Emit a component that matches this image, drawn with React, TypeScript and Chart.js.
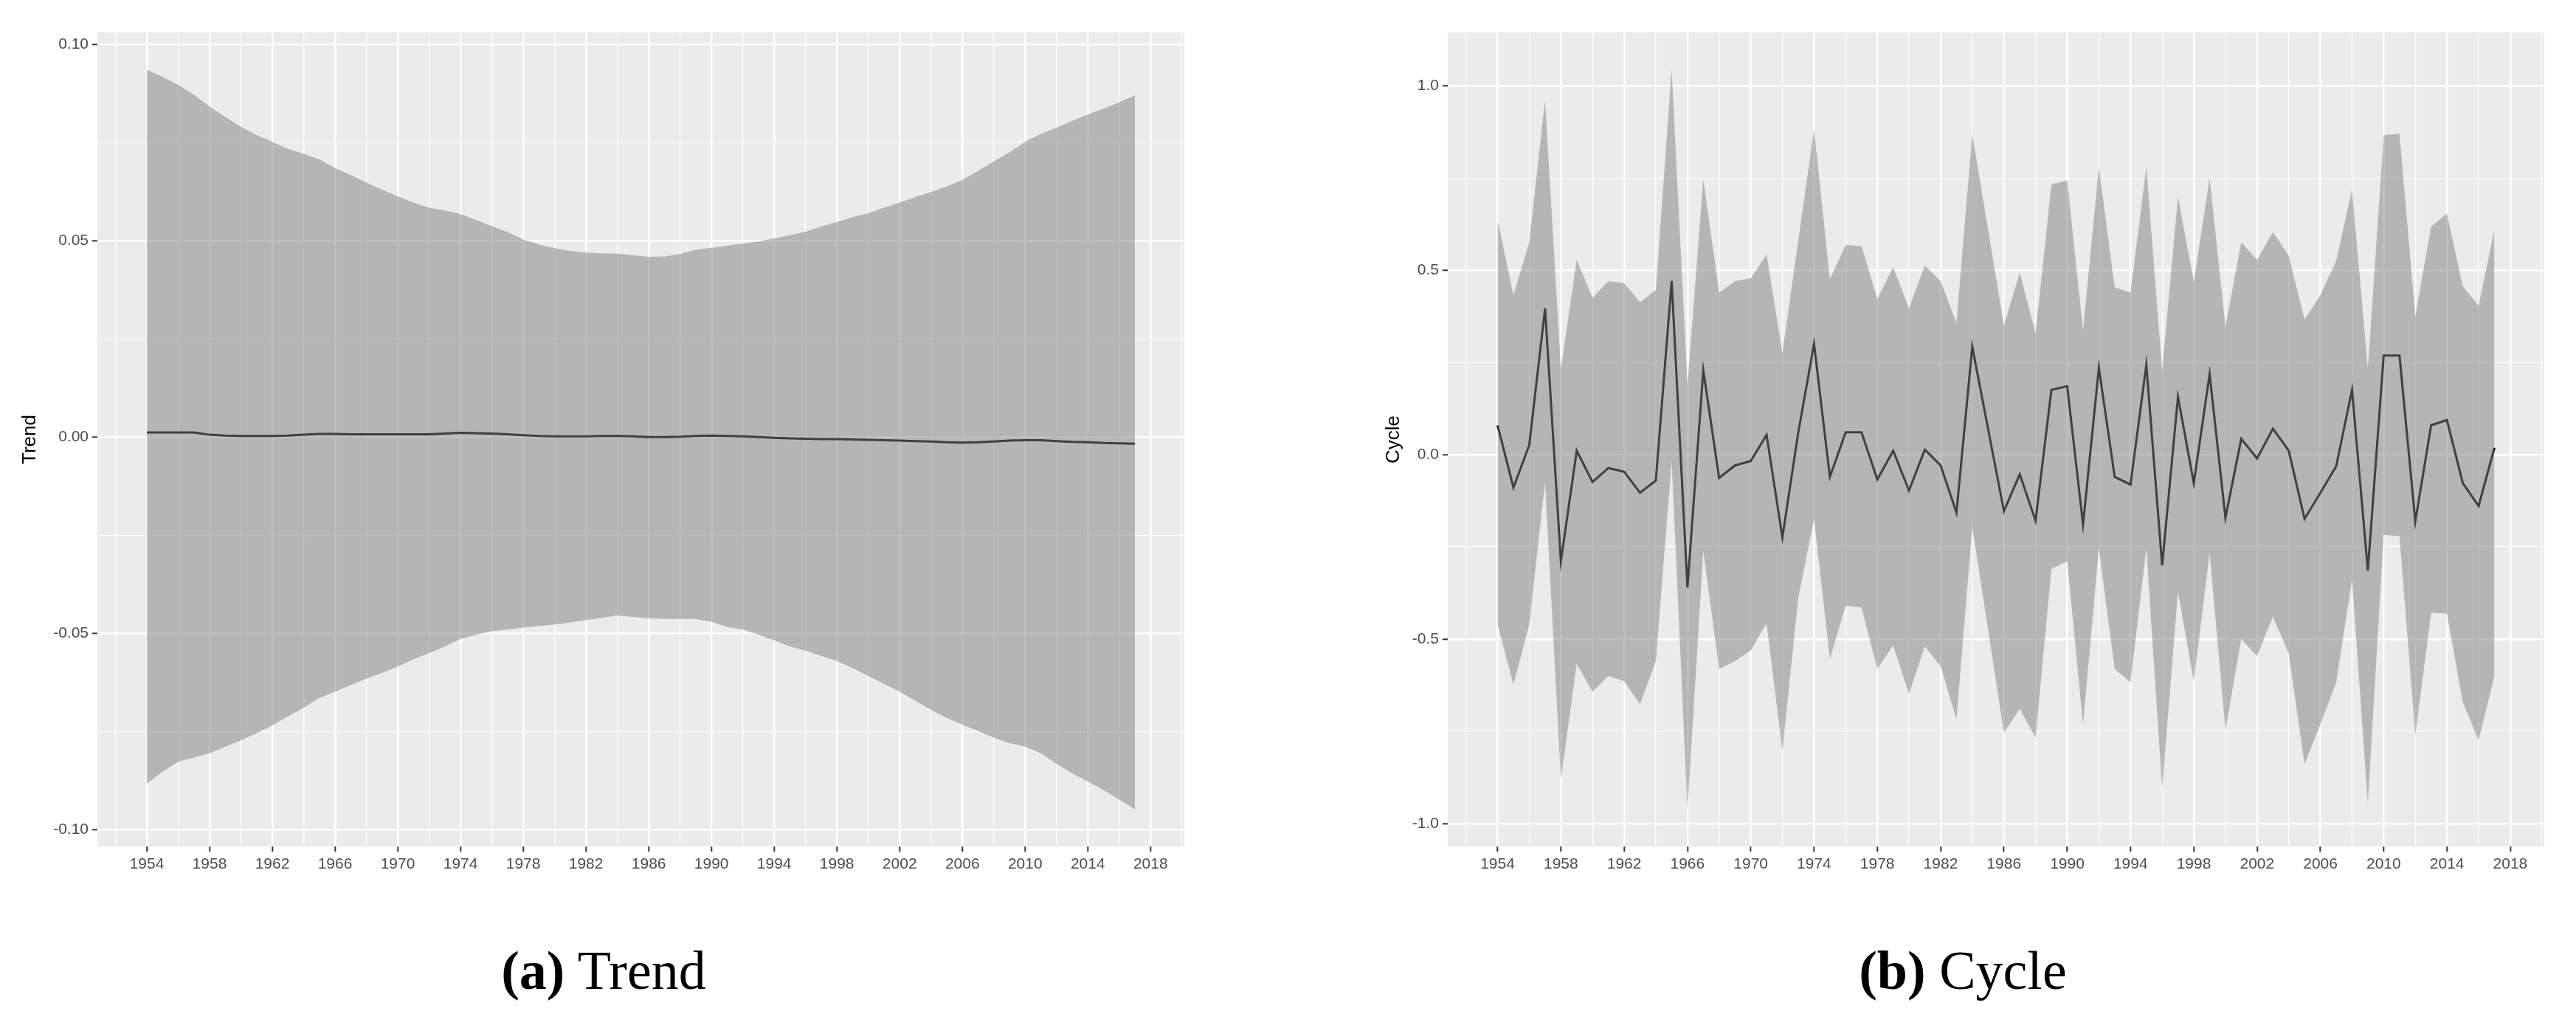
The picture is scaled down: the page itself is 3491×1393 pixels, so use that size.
import React, { useEffect, useRef } from "react";
import { Chart, registerables } from "chart.js";

Chart.register(...registerables);

// ---------- data ----------
const years = [
  1954, 1955, 1956, 1957, 1958, 1959, 1960, 1961, 1962, 1963,
  1964, 1965, 1966, 1967, 1968, 1969, 1970, 1971, 1972, 1973,
  1974, 1975, 1976, 1977, 1978, 1979, 1980, 1981, 1982, 1983,
  1984, 1985, 1986, 1987, 1988, 1989, 1990, 1991, 1992, 1993,
  1994, 1995, 1996, 1997, 1998, 1999, 2000, 2001, 2002, 2003,
  2004, 2005, 2006, 2007, 2008, 2009, 2010, 2011, 2012, 2013,
  2014, 2015, 2016, 2017,
];

const trendValues = [
  0.0012, 0.0012, 0.0012, 0.0012, 0.0006, 0.0004, 0.0003, 0.0003, 0.0003, 0.0004,
  0.0006, 0.0008, 0.0008, 0.0007, 0.0007, 0.0007, 0.0007, 0.0007, 0.0007, 0.0009,
  0.0011, 0.001, 0.0009, 0.0007, 0.0005, 0.0003, 0.0002, 0.0002, 0.0002, 0.0003,
  0.0003, 0.0002, 0.0, 0.0, 0.0001, 0.0003, 0.0004, 0.0003, 0.0002, 0.0,
  -0.0002, -0.0003, -0.0004, -0.0005, -0.0005, -0.0006, -0.0007, -0.0008, -0.0009, -0.001,
  -0.0011, -0.0013, -0.0014, -0.0013, -0.0011, -0.0009, -0.0008, -0.0008, -0.001, -0.0012,
  -0.0013, -0.0015, -0.0016, -0.0017,
];

const trendUpper = [
  0.0936, 0.0917, 0.0897, 0.0872, 0.0842, 0.0815, 0.079, 0.0769, 0.0752, 0.0734,
  0.0721, 0.0707, 0.0685, 0.0667, 0.0648, 0.063, 0.0613, 0.0597, 0.0584, 0.0577,
  0.0568, 0.0553, 0.0537, 0.0522, 0.0503, 0.049, 0.0481, 0.0474, 0.047, 0.0468,
  0.0467, 0.0463, 0.0459, 0.046, 0.0466, 0.0477, 0.0482, 0.0487, 0.0493, 0.0498,
  0.0506, 0.0514, 0.0523, 0.0536, 0.0548, 0.056, 0.057, 0.0584, 0.0597, 0.0611,
  0.0624, 0.0638, 0.0655, 0.0678, 0.0702, 0.0725, 0.0752, 0.0772, 0.0788, 0.0805,
  0.0821, 0.0836, 0.0852, 0.087,
];

const trendLower = [
  -0.0882, -0.0852, -0.0826, -0.0816, -0.0805, -0.0788, -0.0772, -0.0754, -0.0734, -0.0711,
  -0.0689, -0.0664, -0.0648, -0.0631, -0.0615, -0.06, -0.0584, -0.0566, -0.055, -0.0533,
  -0.0514, -0.0503, -0.0494, -0.049, -0.0485, -0.0481, -0.0477, -0.0472, -0.0466, -0.046,
  -0.0454, -0.0458, -0.0461, -0.0463, -0.0463, -0.0463, -0.047, -0.0483, -0.049, -0.0503,
  -0.0517, -0.0533, -0.0544, -0.0557, -0.057, -0.0588, -0.0608, -0.0628, -0.0648, -0.0671,
  -0.0694, -0.0715, -0.0732, -0.0748, -0.0765, -0.0779, -0.0788, -0.0805, -0.0832, -0.0856,
  -0.0877, -0.0899, -0.0923, -0.0948,
];

const cycleValues = [
  0.08, -0.089, 0.026, 0.397, -0.289, 0.011, -0.074, -0.036, -0.046, -0.103,
  -0.07, 0.471, -0.36, 0.229, -0.063, -0.029, -0.017, 0.054, -0.224, 0.06,
  0.301, -0.06, 0.061, 0.061, -0.067, 0.011, -0.097, 0.014, -0.029, -0.157,
  0.293, 0.07, -0.153, -0.053, -0.179, 0.176, 0.186, -0.189, 0.236, -0.06,
  -0.081, 0.244, -0.3, 0.157, -0.077, 0.219, -0.171, 0.043, -0.01, 0.071,
  0.011, -0.174, -0.103, -0.031, 0.176, -0.314, 0.269, 0.269, -0.181, 0.08,
  0.094, -0.077, -0.139, 0.019,
];

const cycleUpper = [
  0.637, 0.433, 0.576, 0.961, 0.233, 0.529, 0.426, 0.471, 0.466, 0.414,
  0.447, 1.045, 0.19, 0.747, 0.44, 0.471, 0.479, 0.543, 0.276, 0.58,
  0.883, 0.476, 0.569, 0.566, 0.423, 0.509, 0.397, 0.514, 0.471, 0.357,
  0.869, 0.61, 0.351, 0.494, 0.329, 0.733, 0.744, 0.337, 0.78, 0.454,
  0.44, 0.78, 0.229, 0.7, 0.469, 0.75, 0.347, 0.576, 0.529, 0.604,
  0.54, 0.366, 0.433, 0.526, 0.719, 0.233, 0.866, 0.871, 0.376, 0.619,
  0.654, 0.457, 0.404, 0.611,
];

const cycleLower = [
  -0.46, -0.624, -0.46, -0.074, -0.881, -0.567, -0.643, -0.6, -0.614, -0.677,
  -0.56, -0.017, -0.962, -0.26, -0.581, -0.56, -0.531, -0.457, -0.803, -0.389,
  -0.174, -0.553, -0.41, -0.414, -0.581, -0.517, -0.649, -0.52, -0.574, -0.717,
  -0.196, -0.474, -0.753, -0.689, -0.767, -0.31, -0.289, -0.731, -0.253, -0.581,
  -0.617, -0.253, -0.903, -0.371, -0.614, -0.267, -0.746, -0.5, -0.546, -0.439,
  -0.539, -0.839, -0.731, -0.617, -0.339, -0.946, -0.217, -0.22, -0.76, -0.429,
  -0.431, -0.671, -0.774, -0.6,
];

// ---------- ticks ----------
const xMajorYears = [1954, 1958, 1962, 1966, 1970, 1974, 1978, 1982, 1986, 1990, 1994, 1998, 2002, 2006, 2010, 2014, 2018];
const xMajorLabels = ["1954", "1958", "1962", "1966", "1970", "1974", "1978", "1982", "1986", "1990", "1994", "1998", "2002", "2006", "2010", "2014", "2018"];
const xMinorYears = [1952, 1956, 1960, 1964, 1968, 1972, 1976, 1980, 1984, 1988, 1992, 1996, 2000, 2004, 2008, 2012, 2016, 2020];

const trendMajorTicks = [-0.1, -0.05, 0, 0.05, 0.1];
const trendMajorLabels = ["-0.10", "-0.05", "0.00", "0.05", "0.10"];
const trendMinorTicks = [-0.075, -0.025, 0.025, 0.075];

const cycleMajorTicks = [-1, -0.5, 0, 0.5, 1];
const cycleMajorLabels = ["-1.0", "-0.5", "0.0", "0.5", "1.0"];
const cycleMinorTicks = [-0.75, -0.25, 0.25, 0.75];

// ---------- helpers ----------
const near = (a: number, b: number) => Math.abs(a - b) < 1e-9;

const panelBg = {
  id: "panelBg",
  beforeDraw(chart: any) {
    const { ctx, chartArea } = chart;
    if (!chartArea) return;
    ctx.save();
    ctx.fillStyle = "#EBEBEB";
    ctx.fillRect(chartArea.left, chartArea.top, chartArea.right - chartArea.left, chartArea.bottom - chartArea.top);
    ctx.restore();
  },
};

function expanded(lo: number[], hi: number[]) {
  const mn = Math.min(...lo);
  const mx = Math.max(...hi);
  const pad = (mx - mn) * 0.05;
  return [mn - pad, mx + pad];
}

function buildConfig(opts: {
  values: number[];
  upper: number[];
  lower: number[];
  yMajor: number[];
  yMajorLabels: string[];
  yMinor: number[];
  title: string;
  yAxisWidth: number;
  titleOffset: number;
  padRight: number;
  xAxisHeight: number;
}) {
  const [yMin, yMax] = expanded(opts.lower, opts.upper);
  const xSpan = years[years.length - 1] - years[0];
  const xMin = years[0] - xSpan * 0.05;
  const xMax = years[years.length - 1] + xSpan * 0.05;
  const xAll = [...xMajorYears, ...xMinorYears].sort((a, b) => a - b);
  const yAll = [...opts.yMajor, ...opts.yMinor].sort((a, b) => a - b);
  const isXMajor = (v: number) => xMajorYears.some((m) => near(m, v));
  const isYMajor = (v: number) => opts.yMajor.some((m) => near(m, v));

  const pts = (arr: number[]) => years.map((y, i) => ({ x: y, y: arr[i] }));

  return {
    type: "line",
    data: {
      datasets: [
        {
          data: pts(opts.upper),
          borderColor: "rgba(0,0,0,0)",
          borderWidth: 0,
          pointRadius: 0,
          backgroundColor: "rgba(128,128,128,0.5)",
          fill: "+1",
          tension: 0,
        },
        {
          data: pts(opts.lower),
          borderColor: "rgba(0,0,0,0)",
          borderWidth: 0,
          pointRadius: 0,
          fill: false,
          tension: 0,
        },
        {
          data: pts(opts.values),
          borderColor: "#000000",
          borderWidth: 3,
          pointRadius: 0,
          fill: false,
          tension: 0,
        },
      ],
    },
    options: {
      animation: false,
      responsive: false,
      devicePixelRatio: 1,
      layout: { padding: { top: 44, right: opts.padRight, bottom: 0, left: 0 } },
      plugins: { legend: { display: false }, tooltip: { enabled: false }, title: { display: false } },
      scales: {
        x: {
          type: "linear",
          min: xMin,
          max: xMax,
          afterBuildTicks: (axis: any) => {
            axis.ticks = xAll.map((v) => ({ value: v }));
          },
          afterFit: (axis: any) => {
            axis.height = opts.xAxisHeight;
          },
          border: { display: false },
          grid: {
            color: "#FFFFFF",
            lineWidth: (c: any) => (c.tick && isXMajor(c.tick.value) ? 2.6 : 1.3),
            drawTicks: true,
            tickLength: 7,
            tickWidth: 2,
            tickColor: (c: any) => (c.tick && isXMajor(c.tick.value) ? "#333333" : "rgba(0,0,0,0)"),
          },
          ticks: {
            autoSkip: false,
            maxRotation: 0,
            minRotation: 0,
            padding: 5,
            color: "#4D4D4D",
            font: { family: "'Liberation Sans', Arial, sans-serif", size: 21 },
            callback: (v: any) => {
              const i = xMajorYears.findIndex((m) => near(m, Number(v)));
              return i >= 0 ? xMajorLabels[i] : "";
            },
          },
        },
        y: {
          type: "linear",
          min: yMin,
          max: yMax,
          afterBuildTicks: (axis: any) => {
            axis.ticks = yAll.map((v) => ({ value: v }));
          },
          afterFit: (axis: any) => {
            axis.width = opts.yAxisWidth;
          },
          border: { display: false },
          grid: {
            color: "#FFFFFF",
            lineWidth: (c: any) => (c.tick && isYMajor(c.tick.value) ? 2.6 : 1.3),
            drawTicks: true,
            tickLength: 7,
            tickWidth: 2,
            tickColor: (c: any) => (c.tick && isYMajor(c.tick.value) ? "#333333" : "rgba(0,0,0,0)"),
          },
          ticks: {
            autoSkip: false,
            padding: 5,
            color: "#4D4D4D",
            font: { family: "'Liberation Sans', Arial, sans-serif", size: 21 },
            callback: (v: any) => {
              const i = opts.yMajor.findIndex((m) => near(m, Number(v)));
              return i >= 0 ? opts.yMajorLabels[i] : "";
            },
          },
          title: {
            display: true,
            text: opts.title,
            color: "#000000",
            font: { family: "'Liberation Sans', Arial, sans-serif", size: 26 },
            padding: { top: opts.titleOffset, bottom: 0 },
          },
        },
      },
    },
    plugins: [panelBg],
  } as any;
}

const CANVAS_H = 1200;

export default function App() {
  const leftRef = useRef<HTMLCanvasElement | null>(null);
  const rightRef = useRef<HTMLCanvasElement | null>(null);

  useEffect(() => {
    document.body.style.margin = "0";
    const charts: Chart[] = [];
    if (leftRef.current) {
      charts.push(
        new Chart(
          leftRef.current,
          buildConfig({
            values: trendValues,
            upper: trendUpper,
            lower: trendLower,
            yMajor: trendMajorTicks,
            yMajorLabels: trendMajorLabels,
            yMinor: trendMinorTicks,
            title: "Trend",
            yAxisWidth: 132,
            titleOffset: 25,
            padRight: 35,
            xAxisHeight: CANVAS_H - 1147,
          })
        )
      );
    }
    if (rightRef.current) {
      charts.push(
        new Chart(
          rightRef.current,
          buildConfig({
            values: cycleValues,
            upper: cycleUpper,
            lower: cycleLower,
            yMajor: cycleMajorTicks,
            yMajorLabels: cycleMajorLabels,
            yMinor: cycleMinorTicks,
            title: "Cycle",
            yAxisWidth: 162,
            titleOffset: 73,
            padRight: 42,
            xAxisHeight: CANVAS_H - 1147,
          })
        )
      );
    }
    return () => charts.forEach((c) => c.destroy());
  }, []);

  const captionStyle: React.CSSProperties = {
    position: "absolute",
    top: 1278,
    width: 600,
    textAlign: "center",
    fontFamily: "'Liberation Serif', 'Times New Roman', serif",
    fontSize: 74,
    lineHeight: "74px",
    color: "#000",
    whiteSpace: "nowrap",
  };

  return (
    <div style={{ position: "absolute", left: 0, top: 0, width: 3491, height: 1393, background: "#fff", overflow: "hidden" }}>
      <canvas ref={leftRef} width={1640} height={CANVAS_H} style={{ position: "absolute", left: 0, top: 0, width: 1640, height: CANVAS_H }} />
      <canvas ref={rightRef} width={1690} height={CANVAS_H} style={{ position: "absolute", left: 1800, top: 0, width: 1690, height: CANVAS_H }} />
      <div style={{ ...captionStyle, left: 818 - 300 }}>
        <b>(a)</b> Trend
      </div>
      <div style={{ ...captionStyle, left: 2660 - 300 }}>
        <b>(b)</b> Cycle
      </div>
    </div>
  );
}
